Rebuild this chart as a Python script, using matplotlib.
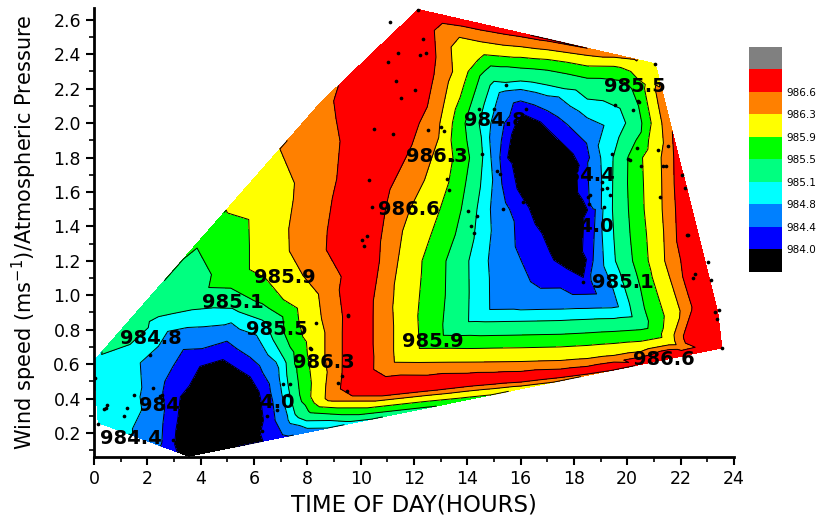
import numpy as np
import matplotlib
matplotlib.use("Agg")
import matplotlib.pyplot as plt
import matplotlib.tri as mtri
from matplotlib.colors import ListedColormap, BoundaryNorm
from matplotlib.colorbar import ColorbarBase

# contour levels (hPa) and the band colours, lowest first (grey = above top level)
levels = [984.0, 984.4, 984.8, 985.1, 985.5, 985.9, 986.3, 986.6]
level_labels = ["984.0", "984.4", "984.8", "985.1", "985.5", "985.9", "986.3", "986.6"]
band_colors = ["#000000", "#0000ff", "#0080ff", "#00ffff", "#00ff80",
               "#00ff00", "#ffff00", "#ff8000", "#ff0000", "#808080"]

# pressure (hour, wind speed, hPa)
edge_pts = [
    (12.16, 2.660, 986.9), (13.0, 2.630, 986.85), (14.5, 2.577, 986.75),
    (16.0, 2.524, 986.7), (17.0, 2.488, 986.66), (18.5, 2.435, 986.6),
    (19.5, 2.400, 986.45), (20.3, 2.372, 986.32), (21.05, 2.345, 986.15),
    (21.29, 2.200, 986.35), (21.61, 2.000, 986.55), (21.94, 1.800, 986.75),
    (22.42, 1.500, 986.9), (22.91, 1.200, 986.9), (23.40, 0.900, 986.9),
    (23.55, 0.694, 986.9), (22.0, 0.645, 986.85), (20.5, 0.598, 986.72),
    (19.5, 0.567, 986.62), (18.5, 0.535, 986.5), (17.5, 0.504, 986.35),
    (16.0, 0.457, 986.1), (15.0, 0.425, 985.92), (14.0, 0.394, 985.75),
    (12.5, 0.346, 985.45), (11.0, 0.299, 985.2), (9.5, 0.252, 984.95),
    (8.0, 0.205, 984.65), (7.0, 0.173, 984.3), (6.0, 0.142, 983.85),
    (5.0, 0.111, 983.6), (3.55, 0.065, 983.7), (2.6, 0.119, 984.35),
    (1.9, 0.160, 984.7), (1.0, 0.211, 984.9), (0.15, 0.260, 984.95),
    (0.07, 0.440, 984.95), (0.0, 0.620, 985.05), (1.5, 0.885, 985.3),
    (2.8, 1.114, 985.45), (3.9, 1.308, 985.55), (4.85, 1.476, 985.88),
    (6.0, 1.679, 986.1), (6.97, 1.850, 986.3), (8.5, 2.120, 986.5),
    (9.3, 2.238, 986.62), (10.5, 2.416, 986.8),
]

# afternoon low and the rings around it
centre_pts = [
    # core
    (16.25, 1.98, 983.6), (15.8, 1.8, 983.6), (16.3, 1.7, 983.6), (17.02, 1.86, 983.6),
    (17.05, 1.52, 983.6), (17.7, 1.66, 983.6), (17.8, 1.36, 983.6), (18.25, 1.22, 983.6),
    (18.22, 1.49, 983.6),
    # 984.0-984.4
    (15.6, 2.003, 984.2), (15.37, 1.797, 984.2), (15.95, 1.502, 984.2), (16.3, 1.36, 984.2),
    (16.75, 1.196, 984.2), (17.5, 1.12, 984.2), (18.4, 1.045, 984.2), (18.58, 1.203, 984.2),
    (18.66, 1.498, 984.2), (18.45, 1.802, 984.2), (17.8, 1.9, 984.2), (17.0, 2.02, 984.2),
    (16.0, 2.088, 984.2),
    # 984.4-984.8
    (15.18, 1.997, 984.6), (15.07, 1.804, 984.6), (15.22, 1.497, 984.6), (15.3, 1.204, 984.6),
    (15.4, 0.97, 984.6), (16.0, 0.961, 984.6), (17.5, 0.964, 984.6), (18.5, 0.966, 984.6),
    (19.3, 0.97, 984.6), (18.86, 1.197, 984.6), (18.8, 1.503, 984.6), (18.72, 1.797, 984.6),
    (18.5, 1.965, 984.6), (17.0, 2.125, 984.6), (16.0, 2.17, 984.6),
    # 984.8-985.1
    (14.66, 2.002, 984.95), (14.75, 1.799, 984.95), (14.6, 1.503, 984.95), (14.4, 1.199, 984.95),
    (14.42, 0.878, 984.95), (15.0, 0.879, 984.95), (16.0, 0.881, 984.95), (17.5, 0.886, 984.95),
    (18.5, 0.892, 984.95), (19.5, 0.895, 984.95), (19.95, 0.905, 984.95), (19.3, 1.201, 984.95),
    (19.2, 1.502, 984.95), (19.22, 1.798, 984.95), (19.6, 2.003, 984.95), (18.5, 2.08, 984.95),
    (17.0, 2.185, 984.95), (16.0, 2.215, 984.95), (15.0, 2.2, 984.95),
    # 985.1-985.5
    (14.15, 1.998, 985.3), (14.35, 1.802, 985.3), (14.05, 1.499, 985.3), (13.6, 1.202, 985.3),
    (13.55, 0.805, 985.3), (15.0, 0.803, 985.3), (16.0, 0.806, 985.3), (17.5, 0.81, 985.3),
    (18.5, 0.818, 985.3), (19.5, 0.825, 985.3), (20.5, 0.835, 985.3), (19.9, 1.198, 985.3),
    (19.77, 1.501, 985.3), (19.8, 1.803, 985.3), (20.4, 1.998, 985.3), (19.9, 2.197, 985.3),
    (18.5, 2.22, 985.3), (17.0, 2.27, 985.3), (16.0, 2.285, 985.3), (15.0, 2.3, 985.3),
    # 985.5-985.9
    (14.28, 2.302, 985.7), (13.68, 2.001, 985.7), (13.82, 1.797, 985.7), (13.5, 1.504, 985.7),
    (12.8, 1.197, 985.7), (12.65, 0.73, 985.7), (14.0, 0.727, 985.7), (15.0, 0.73, 985.7),
    (16.0, 0.732, 985.7), (17.5, 0.737, 985.7), (18.5, 0.745, 985.7), (19.5, 0.755, 985.7),
    (20.5, 0.765, 985.7), (21.05, 0.78, 985.7), (20.5, 1.203, 985.7), (20.32, 1.497, 985.7),
    (20.25, 1.801, 985.7), (20.7, 2.002, 985.7), (20.45, 2.2, 985.7), (19.5, 2.3, 985.7),
    (18.5, 2.302, 985.7), (17.0, 2.345, 985.7), (16.0, 2.355, 985.7),
    # 985.9-986.3
    (13.78, 2.298, 986.1), (13.2, 1.998, 986.1), (13.1, 1.803, 986.1), (12.45, 1.497, 986.1),
    (11.8, 1.203, 986.1), (11.75, 0.652, 986.1), (12.5, 0.653, 986.1), (14.0, 0.654, 986.1),
    (15.0, 0.656, 986.1), (16.0, 0.658, 986.1), (17.5, 0.663, 986.1), (18.5, 0.672, 986.1),
    (19.5, 0.685, 986.1), (20.5, 0.7, 986.1), (21.55, 0.73, 986.1), (21.08, 1.197, 986.1),
    (20.95, 1.503, 986.1), (20.9, 1.798, 986.1), (21.1, 1.997, 986.1), (20.9, 2.25, 986.1),
    (19.5, 2.36, 986.1), (18.5, 2.362, 986.1), (17.0, 2.395, 986.1), (16.0, 2.41, 986.1),
    (14.5, 2.43, 986.1),
    # 986.3-986.6
    (13.1, 2.55, 986.45), (13.2, 2.302, 986.45), (12.8, 2.003, 986.45), (12.35, 1.798, 986.45),
    (11.4, 1.503, 986.45), (11.1, 1.198, 986.45), (10.85, 0.95, 986.45), (10.9, 0.58, 986.45),
    (12.5, 0.578, 986.45), (14.0, 0.58, 986.45), (15.0, 0.581, 986.45), (16.0, 0.583, 986.45),
    (17.5, 0.59, 986.45), (18.5, 0.603, 986.45), (19.5, 0.625, 986.45), (20.5, 0.652, 986.45),
    (22.05, 0.7, 986.45), (21.65, 1.202, 986.45), (21.58, 1.498, 986.45), (21.55, 1.802, 986.45),
    (21.45, 2.003, 986.45), (21.2, 2.2, 986.45), (18.5, 2.417, 986.45), (17.0, 2.45, 986.45),
    (16.0, 2.47, 986.45), (14.5, 2.505, 986.45),
    # above 986.6
    (9.8, 0.55, 986.85), (9.82, 0.75, 986.85), (9.85, 1.0, 986.85), (10.05, 1.205, 986.85),
    (10.15, 1.497, 986.85), (10.6, 1.803, 986.85), (11.2, 1.996, 986.85), (10.2, 2.15, 986.85),
    (11.3, 2.35, 986.85), (12.2, 2.52, 986.85), (12.0, 2.25, 986.85), (11.0, 0.44, 986.85),
    (12.5, 0.465, 986.85), (14.0, 0.492, 986.85), (15.0, 0.505, 986.85), (16.0, 0.515, 986.85),
    (17.5, 0.54, 986.85), (18.5, 0.56, 986.85), (19.5, 0.59, 986.85), (20.5, 0.622, 986.85),
    (21.6, 0.662, 986.85), (22.4, 0.76, 986.85), (22.8, 0.95, 986.85), (22.6, 1.203, 986.85),
    (22.2, 1.497, 986.85),
]

# early-morning low and the bands fanning out north-east of it
west_pts = [
    (3.5, 0.15, 983.6), (3.7, 0.33, 983.6), (4.7, 0.52, 983.6), (5.0, 0.3, 983.6),
    (5.75, 0.42, 983.6), (4.4, 0.15, 983.6), (5.95, 0.28, 983.6),
    (2.85, 0.25, 984.2), (3.0, 0.45, 984.2), (3.6, 0.62, 984.2), (4.9, 0.68, 984.2),
    (5.9, 0.58, 984.2), (6.4, 0.45, 984.2), (6.55, 0.27, 984.2),
    (2.3, 0.25, 984.6), (2.3, 0.55, 984.6), (3.1, 0.75, 984.6), (4.5, 0.76, 984.6),
    (5.8, 0.7, 984.6), (6.75, 0.52, 984.6), (7.0, 0.32, 984.6),
    (0.5, 0.35, 984.95), (0.5, 0.55, 984.95), (1.4, 0.4, 984.95), (1.3, 0.65, 984.95),
    (2.5, 0.82, 984.95), (3.8, 0.86, 984.95), (5.2, 0.88, 984.95), (6.3, 0.82, 984.95),
    (7.05, 0.62, 984.95), (7.2, 0.42, 984.95), (7.45, 0.28, 984.95),
    (1.4, 0.8, 985.3), (2.3, 0.95, 985.3), (3.5, 0.99, 985.3), (3.7, 1.14, 985.3),
    (6.8, 0.85, 985.3), (7.25, 0.64, 985.3), (7.5, 0.45, 985.3), (7.95, 0.3, 985.3),
    (5.1, 1.1, 985.7), (5.1, 1.38, 985.7), (6.3, 1.0, 985.7), (7.45, 0.76, 985.7),
    (7.8, 0.56, 985.7), (7.9, 0.42, 985.7),
    (6.55, 1.2, 986.1), (6.5, 1.5, 986.1), (6.6, 1.72, 986.1), (7.9, 0.95, 986.1),
    (8.2, 0.76, 986.1), (8.4, 0.56, 986.1), (8.35, 0.4, 986.1),
    (8.4, 1.95, 986.45), (8.2, 1.6, 986.45), (7.9, 1.3, 986.45), (8.8, 1.05, 986.45),
    (9.0, 0.8, 986.45), (9.0, 0.55, 986.45), (8.9, 0.4, 986.45),
]

# measurement points (black dots)
obs_x = [11.1, 12.32, 11.41, 12.22, 12.44, 11.01, 11.32, 12.02, 11.51, 10.51, 11.22, 12.51,
         13.01, 13.14, 14.42, 15.02, 15.44, 14.54, 15.6, 16.22, 19.54, 15.12, 15.22, 13.22,
         13.32, 13.41, 14.04, 14.35, 14.12, 14.25, 15.35, 16.1, 17.22, 17.54, 18.6, 18.57,
         18.35, 19.04, 19.25, 19.35, 19.12, 19.43, 21.05, 20.43, 20.22, 20.41, 21.53, 20.37,
         21.16, 20.03, 20.12, 20.53, 21.35, 21.47, 22.06, 22.16, 21.22, 22.28, 22.23, 23.03,
         22.53, 22.45, 23.13, 23.45, 23.28, 23.35, 23.56, 10.31, 10.41, 10.23, 10.04, 10.14,
         9.54, 8.32, 8.14, 9.29, 9.16, 9.47, 9.51, 2.1, 2.22, 0.04, 0.45, 0.35, 1.25, 1.1,
         0.16, 2.47, 5.85, 6.48, 6.29, 7.1, 7.35, 7.29, 6.85, 8.1, 1.5, 0.48, 2.54, 2.97,
         16.1, 16.54, 18.53, 19.07, 12.16]
obs_y = [2.586, 2.49, 2.406, 2.397, 2.409, 2.353, 2.244, 2.19, 2.144, 1.966, 1.939, 1.958,
         1.977, 1.952, 2.082, 2.082, 2.219, 1.819, 1.823, 2.082, 2.103, 1.72, 1.703, 1.678,
         1.614, 1.784, 1.49, 1.46, 1.403, 1.359, 1.504, 1.581, 1.842, 1.807, 1.581, 1.533,
         1.079, 1.659, 1.624, 1.581, 1.514, 1.819, 2.345, 2.122, 2.074, 2.13, 1.87, 1.858,
         1.842, 1.794, 1.784, 1.753, 1.753, 1.753, 1.701, 1.624, 1.572, 1.35, 1.348, 1.195,
         1.122, 1.102, 1.089, 0.915, 0.905, 0.861, 0.693, 1.668, 1.514, 1.344, 1.321, 1.286,
         0.882, 0.838, 0.687, 0.532, 0.49, 0.441, 0.886, 0.654, 0.464, 0.522, 0.348, 0.339,
         0.348, 0.296, 0.252, 0.412, 0.296, 0.296, 0.209, 0.486, 0.486, 0.422, 0.335, 0.693,
         0.422, 0.36, 0.422, 0.161, 1.543, 1.466, 1.569, 1.62, 2.66]

# contour labels as they sit on the map
tag_text = ["985.5", "984.8", "986.3", "984.4", "986.6", "984.0", "985.1", "985.9",
            "985.1", "985.5", "984.8", "985.9", "986.3", "986.6", "984.0", "984.0", "984.4"]
tag_x = [20.29, 15.05, 12.87, 18.37, 11.8, 18.34, 19.82, 7.16,
         5.21, 6.85, 2.13, 12.69, 8.62, 21.37, 2.85, 6.35, 1.38]
tag_y = [2.213, 2.013, 1.809, 1.697, 1.50, 1.399, 1.074, 1.103,
         0.958, 0.804, 0.746, 0.732, 0.61, 0.628, 0.361, 0.375, 0.167]

pts = np.array(edge_pts + centre_pts + west_pts)
fx, fy, fz = pts[:, 0], pts[:, 1], pts[:, 2]

# triangulate in screen-like proportions (the y axis is stretched ~7x on the page)
mesh = mtri.Triangulation(fx, fy * 7.0)
tri = mtri.Triangulation(fx, fy, triangles=mesh.triangles)
p = np.column_stack([fx, fy * 7.0])[mesh.triangles]
area = np.abs((p[:, 1, 0] - p[:, 0, 0]) * (p[:, 2, 1] - p[:, 0, 1])
              - (p[:, 2, 0] - p[:, 0, 0]) * (p[:, 1, 1] - p[:, 0, 1]))
tri.set_mask(area < 1e-6)

fig = plt.figure(figsize=(8.19, 5.2), dpi=100)
ax = fig.add_axes([0.115, 0.121, 0.781, 0.864])

fill_levels = [983.0] + levels + [987.0]
ax.tricontourf(tri, fz, levels=fill_levels, colors=band_colors[:9], zorder=1)
ax.tricontour(tri, fz, levels=levels, colors="k", linewidths=0.7, zorder=2)
ax.scatter(obs_x, obs_y, s=7, color="k", zorder=3, linewidths=0)

for t, x, y in zip(tag_text, tag_x, tag_y):
    ax.text(x, y, t, ha="center", va="center", fontsize=14, fontweight="bold",
            color="k", zorder=4, clip_on=True)

ax.set_xlim(0, 24)
ax.set_ylim(0.06, 2.67)
ax.set_xticks(np.arange(0, 25, 2))
ax.set_xticks(np.arange(0, 25, 1), minor=True)
ax.set_yticks(np.arange(0.2, 2.61, 0.2))
ax.set_yticks(np.arange(0.1, 2.67, 0.1), minor=True)
ax.yaxis.set_major_formatter(matplotlib.ticker.FormatStrFormatter("%.1f"))
ax.tick_params(which="major", direction="out", length=6, width=1.5, labelsize=12.5)
ax.tick_params(which="minor", direction="out", length=3.5, width=1.2)
for side in ["top", "right"]:
    ax.spines[side].set_visible(False)
for side in ["left", "bottom"]:
    ax.spines[side].set_linewidth(2)

ax.set_xlabel("TIME OF DAY(HOURS)", fontsize=16.5, labelpad=4)
ax.set_ylabel("Wind speed (ms$^{-1}$)/Atmospheric Pressure", fontsize=15, labelpad=10)

# colour scale
cax = fig.add_axes([0.9145, 0.477, 0.0403, 0.433])
cb = ColorbarBase(cax, cmap=ListedColormap(band_colors),
                  norm=BoundaryNorm(np.arange(11), 10), ticks=np.arange(1, 9))
cb.set_ticklabels(level_labels)
cb.outline.set_visible(False)
cax.minorticks_off()
cax.tick_params(length=0, labelsize=7.5, pad=3)

fig.savefig("out.png", dpi=100)
